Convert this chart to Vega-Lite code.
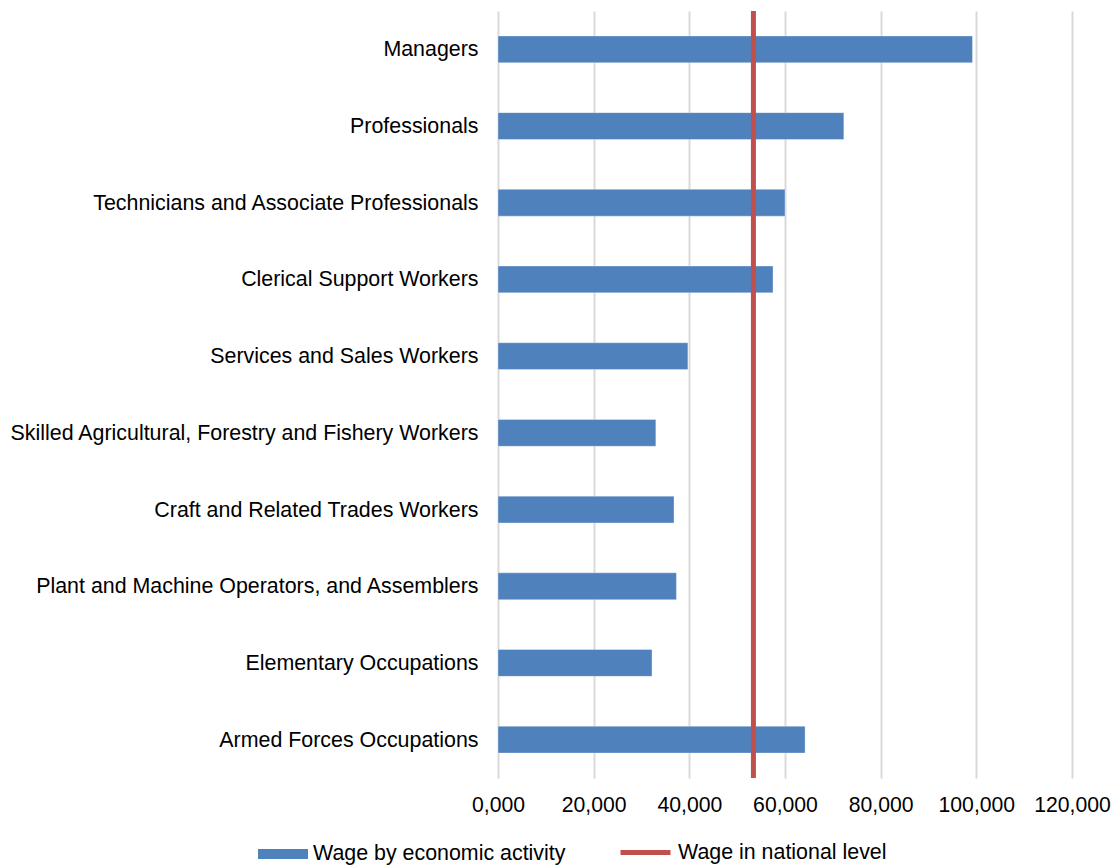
{
  "$schema": "https://vega.github.io/schema/vega-lite/v6.json",
  "autosize": {"type": "none"},
  "padding": {"left": 498, "top": 11, "right": 44, "bottom": 88},
  "width": 574,
  "height": 767,
  "background": "white",
  "config": {
    "view": {"stroke": null},
    "font": "Liberation Sans",
    "axis": {"labelFont": "Liberation Sans", "labelColor": "#000000"},
    "legend": {"labelFont": "Liberation Sans"}
  },
  "datasets": {
    "wages": [
      {"occupation": "Managers", "wage": 99200, "series": "Wage by economic activity"},
      {"occupation": "Professionals", "wage": 72300, "series": "Wage by economic activity"},
      {"occupation": "Technicians and Associate Professionals", "wage": 60000, "series": "Wage by economic activity"},
      {"occupation": "Clerical Support Workers", "wage": 57500, "series": "Wage by economic activity"},
      {"occupation": "Services and Sales Workers", "wage": 39700, "series": "Wage by economic activity"},
      {"occupation": "Skilled Agricultural, Forestry and Fishery Workers", "wage": 33000, "series": "Wage by economic activity"},
      {"occupation": "Craft and Related Trades Workers", "wage": 36800, "series": "Wage by economic activity"},
      {"occupation": "Plant and Machine Operators, and Assemblers", "wage": 37300, "series": "Wage by economic activity"},
      {"occupation": "Elementary Occupations", "wage": 32200, "series": "Wage by economic activity"},
      {"occupation": "Armed Forces Occupations", "wage": 64200, "series": "Wage by economic activity"}
    ],
    "national": [
      {"wage": 53400, "series": "Wage in national level"}
    ]
  },
  "layer": [
    {
      "data": {"name": "wages"},
      "mark": {"type": "bar", "stroke": "#ffffff", "strokeOpacity": 0.35, "strokeWidth": 1},
      "encoding": {
        "y": {
          "field": "occupation", "type": "nominal", "sort": null,
          "scale": {"paddingInner": 0.65, "paddingOuter": 0.325},
          "axis": {"title": null, "ticks": false, "domain": false, "labelFontSize": 21.4, "labelPadding": 20, "labelLimit": 600, "labelOffset": 1}
        },
        "x": {
          "field": "wage", "type": "quantitative",
          "scale": {"domain": [0, 120000], "nice": false},
          "axis": {
            "title": null, "values": [0, 20000, 40000, 60000, 80000, 100000, 120000],
            "labelExpr": "datum.value == 0 ? '0,000' : format(datum.value, ',')",
            "ticks": false, "domain": false, "labelFontSize": 21.2, "labelPadding": 16,
            "grid": true, "gridColor": "#d9d9d9", "gridWidth": 2, "labelFlush": false
          }
        },
        "color": {
          "field": "series", "type": "nominal",
          "scale": {"domain": ["Wage by economic activity"], "range": ["#4f81bd"]},
          "legend": {
            "title": null, "orient": "none", "direction": "horizontal",
            "legendX": -240, "legendY": 818, "padding": 0,
            "labelFontSize": 21.4, "labelColor": "#000000", "labelOffset": 5, "labelLimit": 500,
            "symbolSize": 2500, "symbolStrokeWidth": 0,
            "symbolType": "M-1,-0.2H1V0.2H-1Z"
          }
        }
      }
    },
    {
      "data": {"name": "national"},
      "mark": {"type": "rule", "strokeWidth": 5},
      "encoding": {
        "x": {"field": "wage", "type": "quantitative"},
        "stroke": {
          "field": "series", "type": "nominal",
          "scale": {"domain": ["Wage in national level"], "range": ["#c0504d"]},
          "legend": {
            "title": null, "orient": "none", "direction": "horizontal",
            "legendX": 120, "legendY": 814, "padding": 0,
            "labelFontSize": 21.4, "labelColor": "#000000", "labelOffset": 5, "labelLimit": 500,
            "symbolSize": 2500, "symbolStrokeWidth": 5, "symbolType": "stroke"
          }
        }
      }
    }
  ]
}
